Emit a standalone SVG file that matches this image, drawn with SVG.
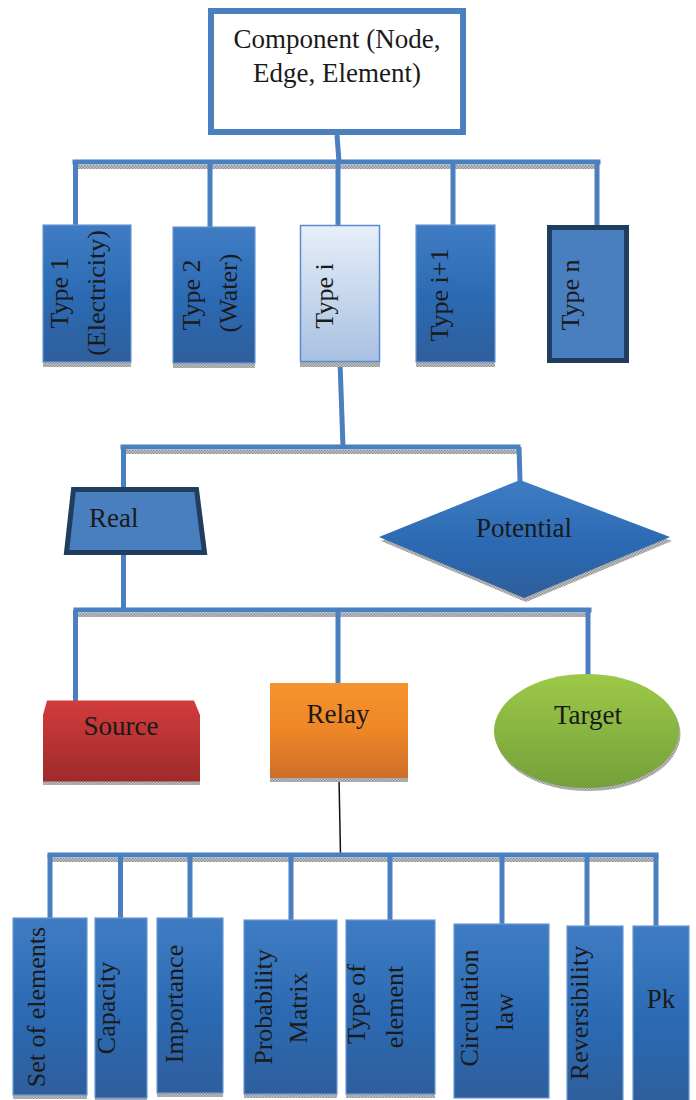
<svg xmlns="http://www.w3.org/2000/svg" width="696" height="1100" viewBox="0 0 696 1100">
<defs>
<linearGradient id="gBlue" x1="0" y1="0" x2="0" y2="1">
<stop offset="0" stop-color="#3f7cc3"/>
<stop offset="0.55" stop-color="#2b6ab3"/>
<stop offset="1" stop-color="#2f5e9c"/>
</linearGradient>
<linearGradient id="gLight" x1="0" y1="0" x2="0" y2="1">
<stop offset="0" stop-color="#e7eff9"/>
<stop offset="1" stop-color="#a8c0e2"/>
</linearGradient>
<linearGradient id="gRed" x1="0" y1="0" x2="0" y2="1">
<stop offset="0" stop-color="#d33c3c"/>
<stop offset="1" stop-color="#9e2a2a"/>
</linearGradient>
<linearGradient id="gOrange" x1="0" y1="0" x2="0" y2="1">
<stop offset="0" stop-color="#f7932f"/>
<stop offset="0.5" stop-color="#ee8627"/>
<stop offset="1" stop-color="#cd6e2a"/>
</linearGradient>
<linearGradient id="gGreen" x1="0" y1="0" x2="0" y2="1">
<stop offset="0" stop-color="#9dc947"/>
<stop offset="1" stop-color="#74a03b"/>
</linearGradient>
<pattern id="hatch" width="3" height="3" patternUnits="userSpaceOnUse">
<rect width="3" height="3" fill="#c8c8c8"/>
<rect width="1.5" height="1.5" fill="#8f8f8f"/>
<rect x="1.5" y="1.5" width="1.5" height="1.5" fill="#8f8f8f"/>
</pattern>
</defs>
<style>
text{font-family:'Liberation Serif','DejaVu Serif',serif;font-size:26px;fill:#1a1a1a}
.h{font-size:27px}
.c{text-anchor:middle}
.box{fill:url(#gBlue);stroke:#6a98d2;stroke-width:1.2}
.sh{fill:url(#hatch)}
.bar{stroke:#4a7fc0;stroke-width:5;fill:none;stroke-linecap:square}
.bsh{stroke:url(#hatch);stroke-width:4;fill:none}
.drop{stroke:#4a7fc0;stroke-width:5;fill:none}
</style>

<g id="connectors">
<line class="drop" x1="337" y1="135" x2="339" y2="162"/>
<line class="bsh" x1="76" y1="167" x2="599" y2="167"/>
<line class="bar" x1="75" y1="162" x2="598" y2="162"/>
<line class="drop" x1="75.5" y1="162" x2="75.5" y2="226"/>
<line class="drop" x1="210" y1="162" x2="210" y2="228"/>
<line class="drop" x1="338" y1="162" x2="338" y2="226"/>
<line class="drop" x1="453" y1="162" x2="453" y2="226"/>
<line class="drop" x1="597" y1="162" x2="597" y2="226"/>
<line class="drop" x1="340" y1="362" x2="343" y2="447"/>
<line class="bsh" x1="124" y1="452" x2="519" y2="452"/>
<line class="bar" x1="123" y1="447" x2="518" y2="447"/>
<line class="drop" x1="123.5" y1="447" x2="123.5" y2="491"/>
<line class="drop" x1="519" y1="447" x2="520" y2="481"/>
<line class="drop" x1="123.5" y1="555" x2="123.5" y2="610"/>
<line class="bsh" x1="77" y1="615" x2="590" y2="615"/>
<line class="bar" x1="76" y1="610" x2="589" y2="610"/>
<line class="drop" x1="75.5" y1="610" x2="75.5" y2="701"/>
<line class="drop" x1="338" y1="610" x2="338" y2="684"/>
<line class="drop" x1="588" y1="610" x2="588" y2="675"/>
<line x1="339" y1="778" x2="340.5" y2="855" stroke="#111" stroke-width="1.5"/>
<line class="bsh" x1="51" y1="860" x2="658" y2="860"/>
<line class="bar" x1="50" y1="855" x2="656" y2="855"/>
<line class="drop" x1="50" y1="855" x2="50" y2="919"/>
<line class="drop" x1="120.5" y1="855" x2="120.5" y2="919"/>
<line class="drop" x1="190" y1="855" x2="190" y2="919"/>
<line class="drop" x1="291" y1="855" x2="291" y2="921"/>
<line class="drop" x1="390" y1="855" x2="390" y2="921"/>
<line class="drop" x1="502" y1="855" x2="502" y2="925"/>
<line class="drop" x1="587" y1="855" x2="587" y2="927"/>
<line class="drop" x1="656" y1="855" x2="656" y2="927"/>
</g>

<g id="component">
<rect x="211" y="11" width="252" height="121" fill="#fff" stroke="#4a7fc0" stroke-width="6"/>
<text class="c h" x="337" y="48">Component (Node,</text>
<text class="c h" x="337" y="82">Edge, Element)</text>
</g>

<g id="type1">
<rect class="sh" x="43" y="362" width="88" height="5"/>
<rect class="box" x="43" y="225" width="88" height="137"/>
<text class="c" transform="translate(68,293) rotate(-90)">Type 1</text>
<text class="c" transform="translate(105,293) rotate(-90)">(Electricity)</text>
</g>
<g id="type2">
<rect class="sh" x="173" y="363" width="82" height="5"/>
<rect class="box" x="173" y="227" width="82" height="136"/>
<text class="c" transform="translate(200,295) rotate(-90)">Type 2</text>
<text class="c" transform="translate(237,293) rotate(-90)">(Water)</text>
</g>
<g id="typei">
<rect class="sh" x="300" y="362" width="80" height="5"/>
<rect x="300.5" y="225.5" width="79" height="136" fill="url(#gLight)" stroke="#5b8dcc" stroke-width="1.5"/>
<text class="c" transform="translate(333,296) rotate(-90)">Type i</text>
</g>
<g id="typei1">
<rect class="sh" x="416" y="362" width="79" height="5"/>
<rect class="box" x="416" y="225" width="79" height="137"/>
<text class="c" transform="translate(448,295) rotate(-90)">Type i+1</text>
</g>
<g id="typen">
<rect x="549.5" y="227.5" width="77" height="133" fill="#4a7fbf" stroke="#1e3d5f" stroke-width="5"/>
<text class="c" transform="translate(579,295) rotate(-90)">Type n</text>
</g>

<g id="real">
<polygon points="73.5,489.5 196.5,489.5 204.5,552.5 66.5,552.5" fill="#4a7fbf" stroke="#1e3d5f" stroke-width="5"/>
<text class="h" x="89" y="527">Real</text>
</g>
<g id="potential">
<polygon points="522,484 672,541 526,602 381,541" fill="url(#hatch)"/>
<polygon points="520,480 670,537 524,598 379,537" fill="url(#gBlue)"/>
<text class="c h" x="524" y="537">Potential</text>
</g>

<g id="source">
<rect class="sh" x="43" y="781" width="157" height="4"/>
<polygon points="47,700.5 194,700.5 200,715 200,781.5 43,781.5 43,715" fill="url(#gRed)"/>
<text class="c h" x="121" y="735">Source</text>
</g>
<g id="relay">
<rect class="sh" x="270" y="777" width="138" height="5"/>
<rect x="270" y="683" width="138" height="95" fill="url(#gOrange)"/>
<text class="c h" x="338" y="723">Relay</text>
</g>
<g id="target">
<ellipse cx="588" cy="734" rx="92.5" ry="57" fill="url(#hatch)"/>
<ellipse cx="586.5" cy="731" rx="92.5" ry="57" fill="url(#gGreen)"/>
<text class="c h" x="588" y="724">Target</text>
</g>

<g id="attr-set">
<rect class="sh" x="13" y="1095" width="74" height="4"/>
<rect class="box" x="13" y="918" width="74" height="177"/>
<text class="c" transform="translate(45,1007) rotate(-90)">Set of elements</text>
</g>
<g id="attr-capacity">
<rect class="sh" x="95" y="1097" width="52" height="3"/>
<rect class="box" x="95" y="918" width="52" height="180"/>
<text class="c" transform="translate(115,1008) rotate(-90)">Capacity</text>
</g>
<g id="attr-importance">
<rect class="sh" x="157" y="1093" width="66" height="4"/>
<rect class="box" x="157" y="918" width="66" height="175"/>
<text class="c" transform="translate(183,1004) rotate(-90)">Importance</text>
</g>
<g id="attr-probability">
<rect class="sh" x="244" y="1094" width="93" height="4"/>
<rect class="box" x="244" y="920" width="93" height="174"/>
<text class="c" transform="translate(272,1007) rotate(-90)">Probability</text>
<text class="c" transform="translate(307,1008) rotate(-90)">Matrix</text>
</g>
<g id="attr-type">
<rect class="sh" x="346" y="1094" width="89" height="4"/>
<rect class="box" x="346" y="920" width="89" height="174"/>
<text class="c" transform="translate(365,1004) rotate(-90)">Type of</text>
<text class="c" transform="translate(403,1007) rotate(-90)">element</text>
</g>
<g id="attr-circulation">
<rect class="box" x="454" y="924" width="95" height="174"/>
<text class="c" transform="translate(478,1008) rotate(-90)">Circulation</text>
<text class="c" transform="translate(513,1012) rotate(-90)">law</text>
</g>
<g id="attr-reversibility">
<rect class="box" x="567" y="926" width="56" height="176"/>
<text class="c" transform="translate(588,1013) rotate(-90)">Reversibility</text>
</g>
<g id="attr-pk">
<rect class="box" x="633" y="926" width="56" height="176"/>
<text class="c h" x="661" y="1008">Pk</text>
</g>
</svg>
